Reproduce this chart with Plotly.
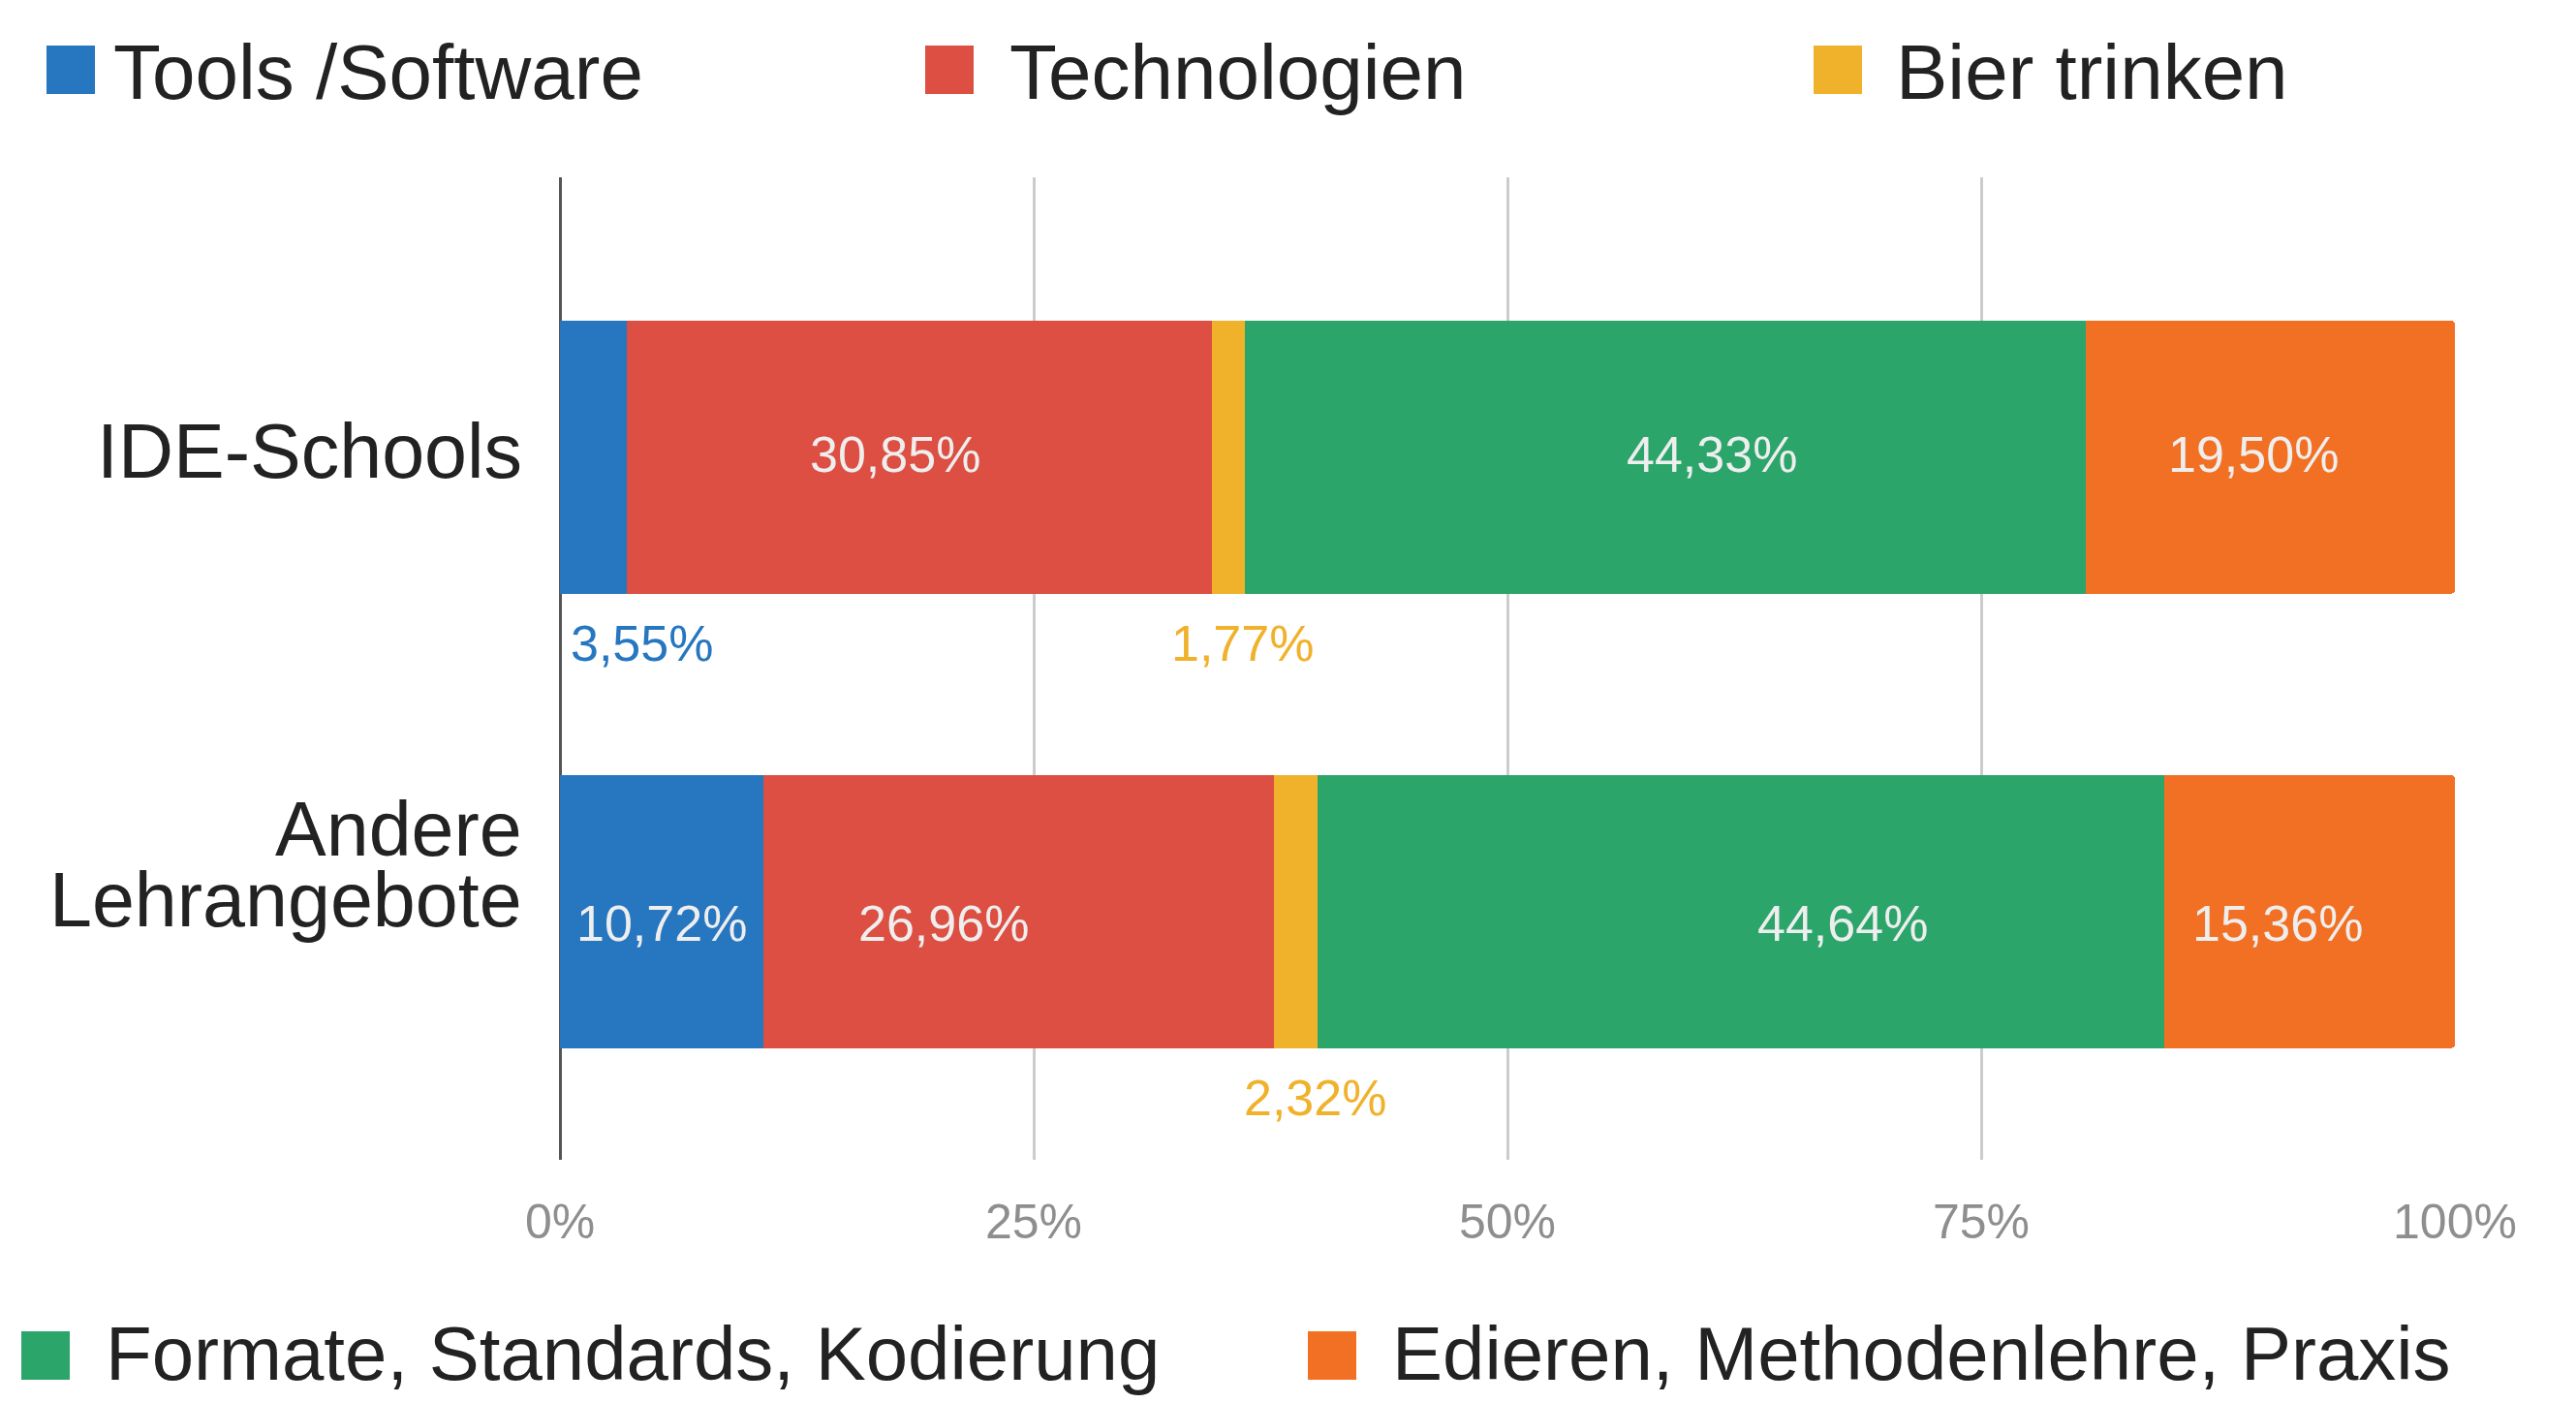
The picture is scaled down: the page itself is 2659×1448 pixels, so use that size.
import plotly.graph_objects as go

# ---------------- data ----------------
categories = ["IDE-Schools", "Andere Lehrangebote"]
category_lines = [["IDE-Schools"], ["Andere", "Lehrangebote"]]
series_names = [
    "Tools /Software",
    "Technologien",
    "Bier trinken",
    "Formate, Standards, Kodierung",
    "Edieren, Methodenlehre, Praxis",
]
tools_software = [3.55, 10.72]
technologien = [30.85, 26.96]
bier_trinken = [1.77, 2.32]
formate = [44.33, 44.64]
edieren = [19.50, 15.36]
x_tickvals = [0, 25, 50, 75, 100]
x_ticktext = ["0%", "25%", "50%", "75%", "100%"]

series_values = [tools_software, technologien, bier_trinken, formate, edieren]
colors = ["#2776c0", "#dc4f42", "#f0b12b", "#2ca56b", "#f27023"]

# style: nudges (px) of the in-bar labels
inside_label_xshift = [[0, 0], [-25, -77], [0, 0], [48, 105], [-17, -33]]
inside_label_yshift = [3, -12]  # per category

# ---------------- layout geometry ----------------
OFF = 8  # browser body margin
W, H = 2659 - 2 * OFF, 1448 - 2 * OFF
ML, MT = 578 - OFF, 183 - OFF
MR = W - (2534 - OFF)
MB = H - (1197 - OFF)
PW, PH = W - ML - MR, H - MT - MB
FONT = "Arial, Liberation Sans, sans-serif"


def px_x(px):
    return (px - OFF - ML) / PW


def px_y(py):
    return (H - MB - (py - OFF)) / PH


def fmt(v):
    return f"{v:.2f}".replace(".", ",") + "%"


SMALL = 5.0

fig = go.Figure()
for name, vals, col in zip(series_names, series_values, colors):
    fig.add_trace(
        go.Bar(
            y=categories,
            x=vals,
            name=name,
            orientation="h",
            marker=dict(color=col, line=dict(width=0)),
            width=0.6,
            showlegend=False,
            hovertemplate="%{y}: %{x:.2f}%<extra>" + name + "</extra>",
        )
    )

annotations = []
cum = [0.0 for _ in categories]
for si, (vals, col) in enumerate(zip(series_values, colors)):
    for ci, v in enumerate(vals):
        start = cum[ci]
        end = start + v
        if v < SMALL:
            # small segment: coloured label below the bar
            if start == 0:
                ax, anchor, shift = start, "left", 9
            else:
                ax, anchor, shift = end, "center", -3
            annotations.append(
                dict(
                    x=ax, y=ci + 0.41, xref="x", yref="y",
                    text=fmt(v), showarrow=False,
                    xanchor=anchor, yanchor="middle", xshift=shift,
                    font=dict(family=FONT, size=52, color=col),
                )
            )
        else:
            annotations.append(
                dict(
                    x=start + v / 2, y=ci, xref="x", yref="y",
                    text=fmt(v), showarrow=False,
                    xanchor="center", yanchor="middle",
                    xshift=inside_label_xshift[si][ci],
                    yshift=inside_label_yshift[ci],
                    font=dict(family=FONT, size=52, color="#eeeeee"),
                )
            )
        cum[ci] = end

# category labels (tight line spacing)
for ci, lines in enumerate(category_lines):
    n = len(lines)
    for li, line in enumerate(lines):
        annotations.append(
            dict(
                x=0, y=ci, xref="paper", yref="y",
                text=line, showarrow=False,
                xanchor="right", yanchor="middle",
                xshift=-37, yshift=6 + 79 * (n - 1) - 73 * li,
                font=dict(family=FONT, size=79, color="#222222"),
            )
        )

# ---------------- legend (large swatches) ----------------
legend_rows = [
    # (swatch left px, swatch top px, text left px, text center y px, font size)
    (48, 47, 115, 74, 80),
    (955, 47, 1040, 74, 80),
    (1872, 47, 1955, 74, 80),
    (22, 1374, 107, 1397, 78),
    (1350, 1374, 1435, 1397, 78),
]
shapes = []
for (sx, sy, tx, ty, fs), name, col in zip(legend_rows, series_names, colors):
    shapes.append(
        dict(
            type="rect", xref="paper", yref="paper",
            x0=px_x(sx), x1=px_x(sx + 50), y0=px_y(sy + 50), y1=px_y(sy),
            fillcolor=col, line=dict(width=0), layer="above",
        )
    )
    annotations.append(
        dict(
            x=px_x(tx), y=px_y(ty), xref="paper", yref="paper",
            text=name, showarrow=False, xanchor="left", yanchor="middle",
            font=dict(family=FONT, size=fs, color="#222222"),
        )
    )

fig.update_layout(
    width=W,
    height=H,
    margin=dict(l=ML, r=MR, t=MT, b=MB, pad=0),
    barmode="stack",
    barcornerradius=4,
    separators=",.",
    paper_bgcolor="white",
    plot_bgcolor="white",
    font=dict(family=FONT, color="#222222"),
    showlegend=False,
    annotations=annotations,
    shapes=shapes,
    xaxis=dict(
        range=[0, 100],
        tickvals=x_tickvals,
        ticktext=x_ticktext,
        showgrid=True,
        gridcolor="#cccccc",
        gridwidth=3,
        zeroline=True,
        zerolinecolor="#555555",
        zerolinewidth=3,
        showline=False,
        ticks="",
        ticklabelstandoff=30,
        tickfont=dict(family=FONT, size=50, color="#8e8e8e"),
        fixedrange=True,
    ),
    yaxis=dict(
        type="category",
        categoryorder="array",
        categoryarray=categories,
        range=[1.546, -0.616],
        showgrid=False,
        zeroline=False,
        showline=False,
        showticklabels=False,
        ticks="",
        fixedrange=True,
    ),
)

fig.write_html("out.html")
